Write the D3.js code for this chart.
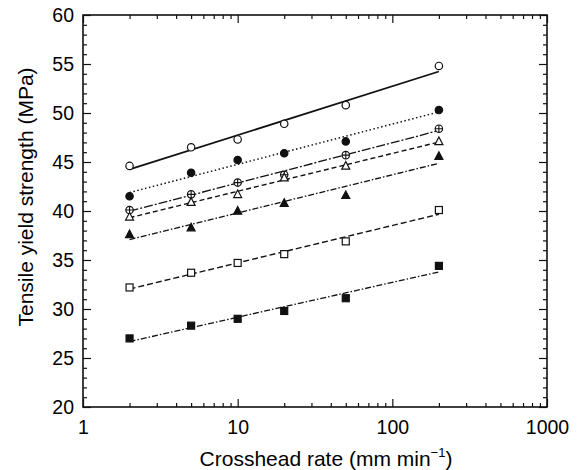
<!DOCTYPE html>
<html>
<head>
<meta charset="utf-8">
<script src="https://cdn.jsdelivr.net/npm/d3@7"></script>
<style>
  body { margin: 0; background: #fff; }
  text { font-family: "Liberation Sans", Arial, sans-serif; fill: #000; }
</style>
</head>
<body>
<div id="chart"></div>
<script>
var rates = [2, 5, 10, 20, 50, 200];

var openCircle    = [44.6, 46.5, 47.3, 48.9, 50.8, 54.8];
var filledCircle  = [41.5, 43.9, 45.2, 45.9, 47.1, 50.3];
var crossCircle   = [40.1, 41.7, 42.9, 43.7, 45.7, 48.4];
var openTriangle  = [39.4, 40.9, 41.7, 43.4, 44.6, 47.1];
var filledTriangle = [37.6, 38.3, 40.0, 40.8, 41.6, 45.6];
var openSquare    = [32.2, 33.7, 34.7, 35.6, 36.9, 40.1];
var filledSquare  = [27.0, 28.3, 29.0, 29.8, 31.1, 34.4];

var xTicks = [1, 10, 100, 1000];
var yTicks = [20, 25, 30, 35, 40, 45, 50, 55, 60];

var series = [
  {values: openCircle, marker: "circle", fill: "#fff", dash: null, w: 1.8},
  {values: filledCircle, marker: "circle", fill: "#111", dash: "1.5,2.5", w: 1.5},
  {values: crossCircle, marker: "cross", fill: "#fff", dash: "9,2,2,2", w: 1.3},
  {values: openTriangle, marker: "triangle", fill: "#fff", dash: "5,3", w: 1.4},
  {values: filledTriangle, marker: "triangle", fill: "#111", dash: "6,2,1.5,2", w: 1.3},
  {values: openSquare, marker: "square", fill: "#fff", dash: "6,3", w: 1.4},
  {values: filledSquare, marker: "square", fill: "#111", dash: "6,2,1.5,2", w: 1.3}
];

var svgWidth = 577, svgHeight = 470;
var margin = {top: 15, right: 30, bottom: 63, left: 83};
var width = svgWidth - margin.left - margin.right;
var height = svgHeight - margin.top - margin.bottom;

var svg = d3.select("#chart").append("svg")
  .attr("width", svgWidth).attr("height", svgHeight);
var chart = svg.append("g")
  .attr("transform", `translate(${margin.left}, ${margin.top})`);

var xScale = d3.scaleLog().domain([1, 1000]).range([0, width]);
var yScale = d3.scaleLinear().domain([20, 60]).range([height, 0]);

// minor tick values
var xMinor = [];
[1, 10, 100].forEach(function(d) {
  for (var k = 2; k <= 9; k++) xMinor.push(d * k);
});
var yMinor = d3.range(21, 60).filter(d => d % 5 !== 0);

function tickStyle(g) {
  g.select(".domain").remove();
  g.selectAll("line").attr("stroke", "#111").attr("stroke-width", 1.2);
  g.selectAll("text").attr("font-size", 19.5);
}

// bottom axis
chart.append("g").attr("transform", `translate(0, ${height})`)
  .call(d3.axisBottom(xScale).tickValues(xTicks).tickFormat(d3.format("d")).tickSizeInner(-8).tickPadding(13))
  .call(tickStyle);
chart.append("g").attr("transform", `translate(0, ${height})`)
  .call(d3.axisBottom(xScale).tickValues(xMinor).tickFormat("").tickSizeInner(-4))
  .call(tickStyle);
// top axis
chart.append("g")
  .call(d3.axisTop(xScale).tickValues(xTicks).tickFormat("").tickSizeInner(-8))
  .call(tickStyle);
chart.append("g")
  .call(d3.axisTop(xScale).tickValues(xMinor).tickFormat("").tickSizeInner(-4))
  .call(tickStyle);
// left axis
chart.append("g")
  .call(d3.axisLeft(yScale).tickValues(yTicks).tickSizeInner(-8).tickPadding(9))
  .call(tickStyle);
chart.append("g")
  .call(d3.axisLeft(yScale).tickValues(yMinor).tickFormat("").tickSizeInner(-4))
  .call(tickStyle);
// right axis
chart.append("g").attr("transform", `translate(${width}, 0)`)
  .call(d3.axisRight(yScale).tickValues(yTicks).tickFormat("").tickSizeInner(-8))
  .call(tickStyle);
chart.append("g").attr("transform", `translate(${width}, 0)`)
  .call(d3.axisRight(yScale).tickValues(yMinor).tickFormat("").tickSizeInner(-4))
  .call(tickStyle);

// frame
chart.append("rect")
  .attr("width", width).attr("height", height)
  .attr("fill", "none").attr("stroke", "#111").attr("stroke-width", 1.6);

// least squares fit in log10(rate)
function fit(values) {
  var xs = rates.map(d => Math.log10(d));
  var mx = d3.mean(xs), my = d3.mean(values);
  var sxy = d3.sum(xs, (x, i) => (x - mx) * (values[i] - my));
  var sxx = d3.sum(xs, x => (x - mx) * (x - mx));
  var b = sxy / sxx, a = my - b * mx;
  return [rates[0], rates[rates.length - 1]].map(r => [r, a + b * Math.log10(r)]);
}

var line = d3.line().x(d => xScale(d[0])).y(d => yScale(d[1]));

series.forEach(function(s) {
  chart.append("path")
    .datum(fit(s.values))
    .attr("d", line)
    .attr("fill", "none")
    .attr("stroke", "#111")
    .attr("stroke-width", s.w)
    .attr("stroke-dasharray", s.dash);
});

// markers
series.forEach(function(s) {
  var g = chart.append("g");
  var pts = rates.map((r, i) => [xScale(r), yScale(s.values[i])]);
  pts.forEach(function(p) {
    if (s.marker === "circle" || s.marker === "cross") {
      g.append("circle").attr("cx", p[0]).attr("cy", p[1]).attr("r", 3.7)
        .attr("fill", s.fill).attr("stroke", "#111").attr("stroke-width", 1.2);
      if (s.marker === "cross") {
        g.append("path")
          .attr("d", `M${p[0] - 3.7},${p[1]}H${p[0] + 3.7}M${p[0]},${p[1] - 3.7}V${p[1] + 3.7}`)
          .attr("stroke", "#111").attr("stroke-width", 1.1);
      }
    } else if (s.marker === "triangle") {
      g.append("path")
        .attr("d", `M${p[0]},${p[1] - 4.4}L${p[0] + 4},${p[1] + 3.2}L${p[0] - 4},${p[1] + 3.2}Z`)
        .attr("fill", s.fill).attr("stroke", "#111").attr("stroke-width", 1.2);
    } else {
      g.append("rect").attr("x", p[0] - 3.5).attr("y", p[1] - 3.5)
        .attr("width", 7).attr("height", 7)
        .attr("fill", s.fill).attr("stroke", "#111").attr("stroke-width", 1.2);
    }
  });
});

// axis titles
chart.append("text")
  .attr("transform", "rotate(-90)")
  .attr("x", -182)
  .attr("y", -50)
  .attr("text-anchor", "middle")
  .attr("font-size", 21)
  .text("Tensile yield strength (MPa)");

var xl = chart.append("text")
  .attr("x", width / 2 + 11)
  .attr("y", height + 59)
  .attr("text-anchor", "middle")
  .attr("font-size", 21)
  .text("Crosshead rate (mm min");
xl.append("tspan").attr("font-size", 13).attr("dy", -9).text("−1");
xl.append("tspan").attr("dy", 9).text(")");
</script>
</body>
</html>
